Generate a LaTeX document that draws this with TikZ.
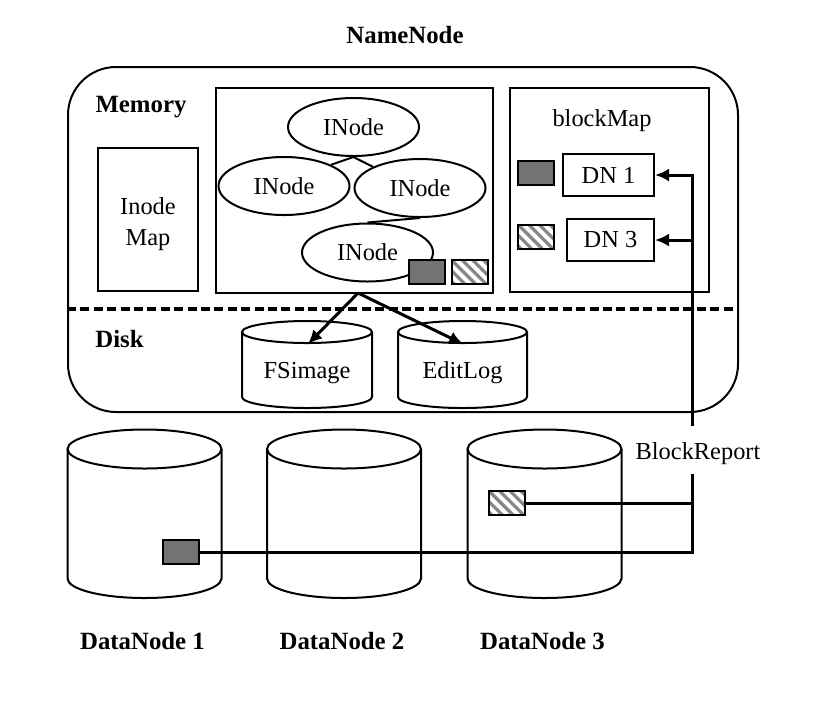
\documentclass[tikz,border=0pt]{standalone}
\usepackage{fontspec}
\setmainfont{Liberation Serif}
\usepackage{tikz}
\usetikzlibrary{
    arrows.meta,
    shapes,
    calc,
    positioning
}

\definecolor{blockgray}{RGB}{115,115,115}
\definecolor{hatchgray}{RGB}{135,135,135}

% cylinder: centre x, top y, bottom y, x radius, y radius (all in px)
\newcommand{\dbdrum}[5]{%
    \draw[edgeline] ({#1-#4},#2) -- ({#1-#4},#3)
        arc[start angle=180, end angle=360, x radius=#4*0.5pt, y radius=#5*0.5pt]
        -- ({#1+#4},#2);
    \draw[edgeline] (#1,#2) ellipse[x radius=#4*0.5pt, y radius=#5*0.5pt];
}

\tikzset{
    every node/.style={font=\fontsize{12.2}{15.5}\selectfont},
    edgeline/.style={line width=1pt},
    box/.style={draw, line width=1pt, inner sep=0pt},
    title/.style={font=\fontsize{12.4}{15}\selectfont\bfseries},
    inode/.style={draw, ellipse, line width=1pt, minimum width=65.5pt, minimum height=29pt, inner sep=0pt},
    solidblk/.style={draw, line width=1pt, fill=blockgray, minimum width=18pt, minimum height=12pt, inner sep=0pt},
    hatchblk/.style={draw, line width=1pt, fill=white, minimum width=18pt, minimum height=12pt, inner sep=0pt,
        path picture={\foreach \k in {-3,...,4}
            \draw[hatchgray, line width=1.6pt] ([xshift=\k*5.3pt]path picture bounding box.north west) -- ++(12pt,-12pt);}},
    conn/.style={line width=1.5pt}
}

\begin{document}
\begin{tikzpicture}[x=0.5pt, y=-0.5pt, >={Latex[length=7pt, width=6.5pt]}]
    \useasboundingbox (0,0) rectangle (818,719);

    % NameNode
    \node[title] (nnlabel) at (405,35) {NameNode};
    \node[box, rounded corners=24pt, minimum width=335pt, minimum height=172.5pt] (namenode) at (403,239.5) {};
    \coordinate (diskline) at (0,309);
    \draw[line width=1.6pt, dash pattern=on 4.5pt off 2.2pt] (namenode.west |- diskline) -- (namenode.east |- diskline);
    \node[title] (memory) at (141,107) {Memory};
    \node[title] (disk) at (119.5,339) {Disk};

    \node[box, minimum width=50pt, minimum height=71.5pt] (inodemap) at (148,219.5) {};
    \node[align=center] (inodemaplabel) at (148,224) {Inode\\Map};

    % inode tree
    \node[box, minimum width=138.5pt, minimum height=102.5pt] (tree) at (354.5,190.5) {};
    \node[inode] (inroot) at (353.5,127) {INode};
    \node[inode] (inleft) at (284,186) {INode};
    \node[inode] (inright) at (420,188) {INode};
    \node[inode] (inleaf) at (367.5,252.5) {INode};
    \draw[edgeline]
    (inroot.south) -- (inleft.north east)
    (inroot.south) -- (inright.north west)
    (inright.south) -- (inleaf.north);
    \node[solidblk] (treeblk1) at (427,272) {};
    \node[hatchblk] (treeblk3) at (469.5,272) {};

    % blockMap
    \node[box, minimum width=99.5pt, minimum height=102pt] (blockmap) at (609.5,190) {};
    \node (bmlabel) at (602,121) {blockMap};
    \node[solidblk] (bmblk1) at (536,173) {};
    \node[hatchblk] (bmblk3) at (536,236.5) {};
    \node[box, minimum width=45.5pt, minimum height=21pt] (dn1) at (608.5,175) {DN 1};
    \node[box, minimum width=43.5pt, minimum height=21pt] (dn3) at (610.5,240) {DN 3};

    % disk
    \dbdrum{307}{332}{397}{65}{11}
    \dbdrum{462.5}{332}{397}{64.5}{11}
    \node (fsimage) at (307,373) {FSimage};
    \node (editlog) at (462.5,373) {EditLog};
    \coordinate (fork) at (358,293);
    \coordinate (fscap) at (308,344);
    \coordinate (elcap) at (463,344);
    \draw[conn, ->] (fork) -- (fscap);
    \draw[conn, ->] (fork) -- (elcap);

    % datanodes
    \foreach \cx/\n in {144.5/1, 344/2, 544.5/3} {
        \dbdrum{\cx}{449}{578.5}{77}{19.5}
        \node[title] (datanode\n) at (\cx-2,641) {DataNode \n};
    }
    \node[solidblk] (dnblk1) at (180.5,552) {};
    \node[hatchblk] (dnblk3) at (507,503) {};

    % block report
    \node (blockreport) at (698,454) {BlockReport};
    \coordinate (bustop) at (692,426);
    \coordinate (busbot) at (692,474);
    \draw[conn, ->] (bustop) |- (dn1);
    \draw[conn, ->] (bustop |- dn3) -- (dn3);
    \draw[conn] (dnblk1) -| (busbot);
    \draw[conn] (dnblk3) -- (dnblk3 -| busbot);
\end{tikzpicture}
\end{document}
